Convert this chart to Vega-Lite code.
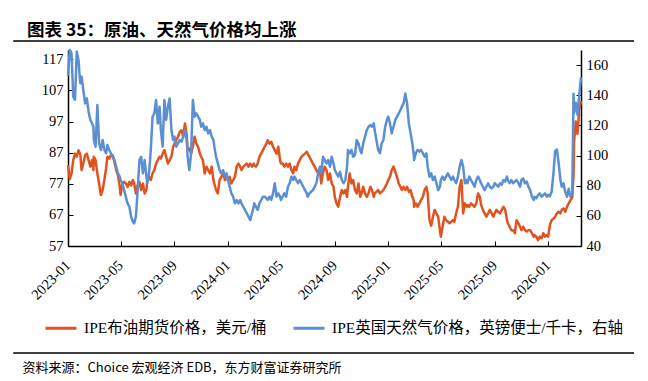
{
"$schema": "https://vega.github.io/schema/vega-lite/v6.json",
"width": 513, "height": 196,
"autosize": {"type": "none"},
"padding": {"left": 68, "top": 50, "right": 67, "bottom": 135},
"background": "white",
"config": {"view": {"stroke": null}},
"title": {"text": "图表 35：原油、天然气价格均上涨", "anchor": "start", "frame": "group", "dx": -41, "offset": 1, "font": "Noto Sans CJK SC", "fontSize": 17.5, "fontWeight": "bold", "color": "#000000"},
"data": {"values": [
{"date":"2023-01-01","oil":83,"gas":153},{"date":"2023-01-05","oil":78.5,"gas":170},{"date":"2023-01-09","oil":80.3,"gas":168},{"date":"2023-01-13","oil":84.6,"gas":139},{"date":"2023-01-17","oil":86.7,"gas":137},{"date":"2023-01-21","oil":85.7,"gas":169},{"date":"2023-01-25","oil":87.8,"gas":163},{"date":"2023-01-29","oil":86.5,"gas":148},
{"date":"2023-02-01","oil":81.4,"gas":152.3},{"date":"2023-02-05","oil":83.5,"gas":143.4},{"date":"2023-02-09","oil":86.2,"gas":134.6},{"date":"2023-02-13","oil":86.7,"gas":137.9},{"date":"2023-02-17","oil":84.6,"gas":129.1},{"date":"2023-02-21","oil":82.5,"gas":123.6},{"date":"2023-02-25","oil":84.6,"gas":121.3},{"date":"2023-02-28","oil":81.4,"gas":119.1},
{"date":"2023-03-01","oil":85.7,"gas":110.3},{"date":"2023-03-05","oil":84.6,"gas":105.9},{"date":"2023-03-09","oil":80.3,"gas":133.5},{"date":"2023-03-13","oil":77.1,"gas":108.1},{"date":"2023-03-17","oil":73.4,"gas":103.7},{"date":"2023-03-21","oil":75,"gas":110.3},{"date":"2023-03-25","oil":78.2,"gas":103.7},{"date":"2023-03-29","oil":82,"gas":101.5},
{"date":"2023-04-01","oil":85.7,"gas":107},{"date":"2023-04-05","oil":85.1,"gas":103.7},{"date":"2023-04-09","oil":86.2,"gas":101.5},{"date":"2023-04-13","oil":86.2,"gas":99.2},{"date":"2023-04-17","oil":84,"gas":97},{"date":"2023-04-21","oil":81.4,"gas":92.6},{"date":"2023-04-25","oil":79.8,"gas":88.2},{"date":"2023-04-29","oil":76,"gas":86},
{"date":"2023-05-01","oil":73.4,"gas":83.8},{"date":"2023-05-05","oil":77.1,"gas":81.6},{"date":"2023-05-09","oil":77.6,"gas":77.1},{"date":"2023-05-13","oil":77.1,"gas":72.7},{"date":"2023-05-17","oil":76,"gas":68.3},{"date":"2023-05-21","oil":77.6,"gas":66.1},{"date":"2023-05-25","oil":76.5,"gas":59.5},{"date":"2023-05-29","oil":78.2,"gas":56.1},
{"date":"2023-06-01","oil":77.1,"gas":55},{"date":"2023-06-05","oil":73.9,"gas":59.5},{"date":"2023-06-09","oil":76.5,"gas":77},{"date":"2023-06-13","oil":77.6,"gas":97},{"date":"2023-06-17","oil":75,"gas":99.2},{"date":"2023-06-21","oil":77.1,"gas":88.2},{"date":"2023-06-25","oil":73.9,"gas":97},{"date":"2023-06-29","oil":75,"gas":86},
{"date":"2023-07-01","oil":78.2,"gas":81.6},{"date":"2023-07-05","oil":79.2,"gas":88.2},{"date":"2023-07-09","oil":78.2,"gas":103.7},{"date":"2023-07-13","oil":80.3,"gas":125.8},{"date":"2023-07-17","oil":81.4,"gas":128},{"date":"2023-07-21","oil":83.5,"gas":136.8},{"date":"2023-07-25","oil":84.6,"gas":121.3},{"date":"2023-07-29","oil":85.7,"gas":132.4},
{"date":"2023-08-01","oil":85.1,"gas":116.9},{"date":"2023-08-05","oil":86.7,"gas":105.9},{"date":"2023-08-09","oil":87.8,"gas":136.8},{"date":"2023-08-13","oil":85.7,"gas":123.6},{"date":"2023-08-17","oil":83.5,"gas":132.4},{"date":"2023-08-21","oil":84.6,"gas":137.9},{"date":"2023-08-25","oil":85.7,"gas":116.9},{"date":"2023-08-29","oil":88.9,"gas":110.3},
{"date":"2023-09-01","oil":89.9,"gas":112.5},{"date":"2023-09-05","oil":91,"gas":105.9},{"date":"2023-09-09","oil":92.1,"gas":108.1},{"date":"2023-09-13","oil":93.7,"gas":110.3},{"date":"2023-09-17","oil":94.2,"gas":109.2},{"date":"2023-09-21","oil":92.1,"gas":112.5},{"date":"2023-09-25","oil":96.4,"gas":116.9},{"date":"2023-09-29","oil":92.6,"gas":110.3},
{"date":"2023-10-01","oil":87.8,"gas":99.2},{"date":"2023-10-05","oil":88.3,"gas":90.4},{"date":"2023-10-09","oil":86.7,"gas":101.5},{"date":"2023-10-13","oil":88.9,"gas":136.8},{"date":"2023-10-17","oil":92.1,"gas":125.8},{"date":"2023-10-21","oil":89.9,"gas":128},{"date":"2023-10-25","oil":88.9,"gas":125.8},{"date":"2023-10-29","oil":86.7,"gas":123.6},
{"date":"2023-11-01","oil":85.7,"gas":119.1},{"date":"2023-11-05","oil":84.6,"gas":121.3},{"date":"2023-11-09","oil":80.3,"gas":116.9},{"date":"2023-11-13","oil":82.5,"gas":119.1},{"date":"2023-11-17","oil":81.4,"gas":114.7},{"date":"2023-11-21","oil":80.3,"gas":116.9},{"date":"2023-11-25","oil":82.5,"gas":112.5},{"date":"2023-11-29","oil":78.2,"gas":110.3},
{"date":"2023-12-01","oil":77.1,"gas":105.9},{"date":"2023-12-05","oil":75,"gas":99.2},{"date":"2023-12-09","oil":73.9,"gas":94.8},{"date":"2023-12-13","oil":78.2,"gas":90.4},{"date":"2023-12-17","oil":79.2,"gas":88.2},{"date":"2023-12-21","oil":80.3,"gas":90.4},{"date":"2023-12-25","oil":78.2,"gas":86},{"date":"2023-12-29","oil":79.2,"gas":88.2},
{"date":"2024-01-01","oil":78.2,"gas":83.8},{"date":"2024-01-05","oil":79.2,"gas":79.3},{"date":"2024-01-09","oil":77.1,"gas":74.9},{"date":"2024-01-13","oil":78.2,"gas":72.7},{"date":"2024-01-17","oil":79.2,"gas":68.3},{"date":"2024-01-21","oil":82.5,"gas":70.5},{"date":"2024-01-25","oil":83.5,"gas":68.3},{"date":"2024-01-29","oil":82.5,"gas":70.5},
{"date":"2024-02-01","oil":81.4,"gas":68.3},{"date":"2024-02-05","oil":82.5,"gas":66.1},{"date":"2024-02-09","oil":83,"gas":63.9},{"date":"2024-02-13","oil":83.5,"gas":61.7},{"date":"2024-02-17","oil":82.5,"gas":59.5},{"date":"2024-02-21","oil":83.5,"gas":57.2},{"date":"2024-02-25","oil":82.5,"gas":61.7},{"date":"2024-02-29","oil":83.5,"gas":66.1},
{"date":"2024-03-01","oil":83,"gas":68.3},{"date":"2024-03-05","oil":82.5,"gas":66.1},{"date":"2024-03-09","oil":83.5,"gas":63.9},{"date":"2024-03-13","oil":85.7,"gas":68.3},{"date":"2024-03-17","oil":86.7,"gas":70.5},{"date":"2024-03-21","oil":87.8,"gas":72.7},{"date":"2024-03-25","oil":88.9,"gas":72.7},{"date":"2024-03-29","oil":89.9,"gas":71.6},
{"date":"2024-04-01","oil":91,"gas":70.5},{"date":"2024-04-05","oil":89.9,"gas":72.7},{"date":"2024-04-09","oil":90.5,"gas":70.5},{"date":"2024-04-13","oil":88.9,"gas":74.9},{"date":"2024-04-17","oil":87.8,"gas":81.6},{"date":"2024-04-21","oil":86.7,"gas":72.7},{"date":"2024-04-25","oil":88.9,"gas":74.9},{"date":"2024-04-29","oil":84.6,"gas":72.7},
{"date":"2024-05-01","oil":83.5,"gas":70.5},{"date":"2024-05-05","oil":83.5,"gas":72.7},{"date":"2024-05-09","oil":82.5,"gas":74.9},{"date":"2024-05-13","oil":83.5,"gas":72.7},{"date":"2024-05-17","oil":82.5,"gas":79.3},{"date":"2024-05-21","oil":83.5,"gas":81.6},{"date":"2024-05-25","oil":81.4,"gas":86},{"date":"2024-05-29","oil":80.3,"gas":83.8},
{"date":"2024-06-01","oil":82.5,"gas":86},{"date":"2024-06-05","oil":81.4,"gas":83.8},{"date":"2024-06-09","oil":83.5,"gas":81.6},{"date":"2024-06-13","oil":84.6,"gas":83.8},{"date":"2024-06-17","oil":85.7,"gas":81.6},{"date":"2024-06-21","oil":86.2,"gas":79.3},{"date":"2024-06-25","oil":86.7,"gas":77.1},{"date":"2024-06-29","oil":87.3,"gas":74.9},
{"date":"2024-07-01","oil":86.7,"gas":72.7},{"date":"2024-07-05","oil":85.7,"gas":74.9},{"date":"2024-07-09","oil":84.6,"gas":76},{"date":"2024-07-13","oil":83.5,"gas":77.1},{"date":"2024-07-17","oil":82.5,"gas":79.3},{"date":"2024-07-21","oil":81.4,"gas":81.6},{"date":"2024-07-25","oil":80.3,"gas":88.2},{"date":"2024-07-29","oil":81.4,"gas":92.6},
{"date":"2024-08-01","oil":77.1,"gas":88.2},{"date":"2024-08-05","oil":80.3,"gas":99.2},{"date":"2024-08-09","oil":82.5,"gas":97},{"date":"2024-08-13","oil":81.4,"gas":94.8},{"date":"2024-08-17","oil":78.2,"gas":97},{"date":"2024-08-21","oil":80.3,"gas":92.6},{"date":"2024-08-25","oil":77.1,"gas":99.2},{"date":"2024-08-29","oil":76,"gas":94.8},
{"date":"2024-09-01","oil":72.8,"gas":90.4},{"date":"2024-09-05","oil":70.7,"gas":88.2},{"date":"2024-09-09","oil":69.6,"gas":86},{"date":"2024-09-13","oil":72.8,"gas":89.3},{"date":"2024-09-17","oil":75,"gas":83.8},{"date":"2024-09-21","oil":73.9,"gas":81.6},{"date":"2024-09-25","oil":75,"gas":83.8},{"date":"2024-09-29","oil":72.8,"gas":92.6},
{"date":"2024-10-01","oil":76,"gas":103.7},{"date":"2024-10-05","oil":80.3,"gas":101.5},{"date":"2024-10-09","oil":77.1,"gas":103.7},{"date":"2024-10-13","oil":78.2,"gas":99.2},{"date":"2024-10-17","oil":75,"gas":100.3},{"date":"2024-10-21","oil":73.9,"gas":110.3},{"date":"2024-10-25","oil":77.1,"gas":108.1},{"date":"2024-10-29","oil":72.8,"gas":103.7},
{"date":"2024-11-01","oil":73.9,"gas":101.5},{"date":"2024-11-05","oil":76,"gas":108.1},{"date":"2024-11-09","oil":73.9,"gas":112.5},{"date":"2024-11-13","oil":72.8,"gas":116.9},{"date":"2024-11-17","oil":73.9,"gas":119.1},{"date":"2024-11-21","oil":76,"gas":120.2},{"date":"2024-11-25","oil":75,"gas":119.1},{"date":"2024-11-29","oil":72.8,"gas":121.3},
{"date":"2024-12-01","oil":73.9,"gas":116.9},{"date":"2024-12-05","oil":74.4,"gas":110.3},{"date":"2024-12-09","oil":75,"gas":103.7},{"date":"2024-12-13","oil":73.9,"gas":101.5},{"date":"2024-12-17","oil":74.4,"gas":108.1},{"date":"2024-12-21","oil":75,"gas":110.3},{"date":"2024-12-25","oil":76,"gas":119.1},{"date":"2024-12-29","oil":77.1,"gas":123.6},
{"date":"2025-01-01","oil":78.2,"gas":125.8},{"date":"2025-01-05","oil":79.2,"gas":121.3},{"date":"2025-01-09","oil":81.4,"gas":114.7},{"date":"2025-01-13","oil":82.5,"gas":119.1},{"date":"2025-01-17","oil":80.9,"gas":123.6},{"date":"2025-01-21","oil":79.2,"gas":125.8},{"date":"2025-01-25","oil":77.1,"gas":128},{"date":"2025-01-29","oil":76,"gas":130.2},
{"date":"2025-02-01","oil":75,"gas":132.4},{"date":"2025-02-05","oil":76,"gas":134.6},{"date":"2025-02-09","oil":75,"gas":141.2},{"date":"2025-02-13","oil":76,"gas":134.6},{"date":"2025-02-17","oil":74.4,"gas":121.3},{"date":"2025-02-21","oil":75,"gas":114.7},{"date":"2025-02-25","oil":72.8,"gas":108.1},{"date":"2025-02-28","oil":71.8,"gas":101.5},
{"date":"2025-03-01","oil":69.6,"gas":97},{"date":"2025-03-05","oil":70.7,"gas":101.5},{"date":"2025-03-09","oil":69.6,"gas":103.7},{"date":"2025-03-13","oil":70.7,"gas":102.6},{"date":"2025-03-17","oil":71.8,"gas":103.7},{"date":"2025-03-21","oil":72.8,"gas":101.5},{"date":"2025-03-25","oil":75,"gas":99.2},{"date":"2025-03-29","oil":76,"gas":101.5},
{"date":"2025-04-01","oil":74,"gas":92.6},{"date":"2025-04-05","oil":65.5,"gas":86},{"date":"2025-04-09","oil":63.5,"gas":88.2},{"date":"2025-04-13","oil":66.4,"gas":83.8},{"date":"2025-04-17","oil":68.6,"gas":86},{"date":"2025-04-21","oil":67.5,"gas":81.6},{"date":"2025-04-25","oil":66.4,"gas":77.1},{"date":"2025-04-29","oil":62,"gas":79.3},
{"date":"2025-05-01","oil":60,"gas":83.8},{"date":"2025-05-05","oil":63.2,"gas":86},{"date":"2025-05-09","oil":66.4,"gas":83.8},{"date":"2025-05-13","oil":65.3,"gas":86},{"date":"2025-05-17","oil":64.8,"gas":88.2},{"date":"2025-05-21","oil":64.3,"gas":86},{"date":"2025-05-25","oil":64.8,"gas":83.8},{"date":"2025-05-29","oil":65.3,"gas":86},
{"date":"2025-06-01","oil":64.8,"gas":83.8},{"date":"2025-06-05","oil":67.5,"gas":81.6},{"date":"2025-06-09","oil":69.6,"gas":86},{"date":"2025-06-13","oil":76,"gas":92.6},{"date":"2025-06-17","oil":78.2,"gas":97},{"date":"2025-06-21","oil":67.5,"gas":92.6},{"date":"2025-06-25","oil":70.7,"gas":81.6},{"date":"2025-06-29","oil":69.6,"gas":83.8},
{"date":"2025-07-01","oil":70.2,"gas":81.6},{"date":"2025-07-05","oil":69.6,"gas":86},{"date":"2025-07-09","oil":70.7,"gas":83.8},{"date":"2025-07-13","oil":70.2,"gas":81.6},{"date":"2025-07-17","oil":69.6,"gas":79.3},{"date":"2025-07-21","oil":70.7,"gas":83.8},{"date":"2025-07-25","oil":73.9,"gas":86},{"date":"2025-07-29","oil":72.8,"gas":83.8},
{"date":"2025-08-01","oil":70.2,"gas":81.6},{"date":"2025-08-05","oil":68.6,"gas":79.3},{"date":"2025-08-09","oil":67.5,"gas":77.1},{"date":"2025-08-13","oil":66.4,"gas":79.3},{"date":"2025-08-17","oil":67.5,"gas":81.6},{"date":"2025-08-21","oil":68.6,"gas":79.3},{"date":"2025-08-25","oil":67.5,"gas":78.2},{"date":"2025-08-29","oil":66.4,"gas":79.3},
{"date":"2025-09-01","oil":67.5,"gas":81.6},{"date":"2025-09-05","oil":68.6,"gas":80.5},{"date":"2025-09-09","oil":68,"gas":79.3},{"date":"2025-09-13","oil":67.5,"gas":81.6},{"date":"2025-09-17","oil":68.6,"gas":80.5},{"date":"2025-09-21","oil":69.6,"gas":83.8},{"date":"2025-09-25","oil":68.6,"gas":82.7},{"date":"2025-09-29","oil":65.3,"gas":86},
{"date":"2025-10-01","oil":64.3,"gas":83.8},{"date":"2025-10-05","oil":63.2,"gas":81.6},{"date":"2025-10-09","oil":62.1,"gas":83.8},{"date":"2025-10-13","oil":62.1,"gas":81.6},{"date":"2025-10-17","oil":61.1,"gas":82.7},{"date":"2025-10-21","oil":65.3,"gas":83.8},{"date":"2025-10-25","oil":64.3,"gas":81.6},{"date":"2025-10-29","oil":63.2,"gas":79.3},
{"date":"2025-11-01","oil":62.1,"gas":83.8},{"date":"2025-11-05","oil":63.2,"gas":84.9},{"date":"2025-11-09","oil":62.1,"gas":81.6},{"date":"2025-11-13","oil":61.6,"gas":82.7},{"date":"2025-11-17","oil":62.1,"gas":79.3},{"date":"2025-11-21","oil":62.1,"gas":77.1},{"date":"2025-11-25","oil":61.1,"gas":72.7},{"date":"2025-11-29","oil":60,"gas":70.5},
{"date":"2025-12-01","oil":60.5,"gas":72.7},{"date":"2025-12-05","oil":60,"gas":71.6},{"date":"2025-12-09","oil":58.9,"gas":73.8},{"date":"2025-12-13","oil":60,"gas":74.9},{"date":"2025-12-17","oil":59.5,"gas":72.7},{"date":"2025-12-21","oil":61.1,"gas":73.8},{"date":"2025-12-25","oil":60,"gas":74.9},{"date":"2025-12-29","oil":60.5,"gas":72.7},
{"date":"2026-01-01","oil":60,"gas":74},{"date":"2026-01-05","oil":63.7,"gas":73},{"date":"2026-01-09","oil":65.3,"gas":76},{"date":"2026-01-13","oil":65.8,"gas":88},{"date":"2026-01-17","oil":66.4,"gas":103},{"date":"2026-01-21","oil":67.5,"gas":104},{"date":"2026-01-25","oil":68,"gas":95},{"date":"2026-01-29","oil":67.5,"gas":84},
{"date":"2026-02-01","oil":68.6,"gas":79.3},{"date":"2026-02-05","oil":69.1,"gas":81.6},{"date":"2026-02-09","oil":68,"gas":76},{"date":"2026-02-13","oil":69.6,"gas":72.7},{"date":"2026-02-17","oil":70.7,"gas":78},{"date":"2026-02-21","oil":71.8,"gas":72.7},{"date":"2026-02-25","oil":72.5,"gas":75},{"date":"2026-02-28","oil":80,"gas":141},
{"date":"2026-03-01","oil":90,"gas":128},{"date":"2026-03-05","oil":97,"gas":135},{"date":"2026-03-09","oil":93,"gas":127},{"date":"2026-03-13","oil":101,"gas":140},{"date":"2026-03-17","oil":103.5,"gas":152}
]},
"layer": [
  {"mark": {"type": "line", "strokeWidth": 2.5, "strokeJoin": "round"},
   "encoding": {
     "x": {"field": "date", "type": "temporal",
           "scale": {"type": "utc", "domain": [{"year": 2023, "month": 1, "date": 1, "utc": true}, {"year": 2026, "month": 3, "date": 17, "utc": true}]},
           "axis": {"format": "%Y-%m", "tickCount": {"interval": "month", "step": 4}, "labelAngle": -45, "labelAlign": "right", "labelBaseline": "middle", "labelPadding": 22, "labelFlush": false, "labelOverlap": false, "tickSize": -5, "tickColor": "#000000", "tickWidth": 1, "domainColor": "#000000", "domainWidth": 1.5, "grid": false, "labelFont": "Liberation Serif", "labelFontSize": 14.5, "labelColor": "#000000",
                    "title": "资料来源：Choice 宏观经济 EDB，东方财富证券研究所", "titleX": -46, "titleY": 121, "titleAlign": "left", "titleAnchor": "start", "titleBaseline": "middle", "titleFont": "Noto Sans CJK SC", "titleFontSize": 13, "titleFontWeight": "normal", "titleColor": "#000000"}},
     "y": {"field": "oil", "type": "quantitative",
           "scale": {"domain": [57, 120], "nice": false, "zero": false},
           "axis": {"orient": "left", "values": [57, 67, 77, 87, 97, 107, 117], "title": null, "grid": false, "tickSize": -5, "tickColor": "#000000", "domainColor": "#000000", "domainWidth": 1.5, "labelPadding": 10, "labelFont": "Liberation Serif", "labelFontSize": 14.5, "labelColor": "#000000"}},
     "color": {"datum": "IPE布油期货价格，美元/桶", "type": "nominal",
               "scale": {"domain": ["IPE布油期货价格，美元/桶", "IPE英国天然气价格，英镑便士/千卡，右轴"], "range": ["#E0531F", "#5A8FD2"]},
               "legend": {"title": null, "orient": "none", "legendX": -24, "legendY": 261, "direction": "horizontal", "symbolType": "stroke", "symbolSize": 961, "symbolStrokeWidth": 3, "labelFont": "Liberation Serif, Noto Sans CJK SC", "labelFontSize": 15.5, "labelColor": "#000000", "labelLimit": 400, "labelOffset": 6, "columnPadding": 20}}
   }},
  {"mark": {"type": "line", "strokeWidth": 2.5, "strokeJoin": "round"},
   "encoding": {
     "x": {"field": "date", "type": "temporal"},
     "y": {"field": "gas", "type": "quantitative",
           "scale": {"domain": [40, 170], "nice": false, "zero": false},
           "axis": {"orient": "right", "values": [40, 60, 80, 100, 120, 140, 160], "title": null, "grid": false, "tickSize": -5, "tickColor": "#000000", "domainColor": "#000000", "domainWidth": 1.5, "labelPadding": 10, "labelFont": "Liberation Serif", "labelFontSize": 14.5, "labelColor": "#000000"}},
     "color": {"datum": "IPE英国天然气价格，英镑便士/千卡，右轴", "type": "nominal"}
   }},
  {"data": {"values": [{}]},
   "mark": {"type": "rule", "color": "#000000", "strokeWidth": 1.3, "clip": false},
   "encoding": {
     "x": {"datum": {"year": 2022, "month": 8, "date": 29, "utc": true}, "type": "temporal"},
     "x2": {"datum": {"year": 2026, "month": 7, "date": 16, "utc": true}},
     "y": {"datum": 122.9, "type": "quantitative", "scale": {"domain": [57, 120], "nice": false, "zero": false}, "axis": null}
   }},
  {"data": {"values": [{}]},
   "mark": {"type": "rule", "color": "#000000", "strokeWidth": 1.3, "clip": false},
   "encoding": {
     "x": {"datum": {"year": 2022, "month": 8, "date": 29, "utc": true}, "type": "temporal"},
     "x2": {"datum": {"year": 2026, "month": 7, "date": 16, "utc": true}},
     "y": {"datum": 22.6, "type": "quantitative", "scale": {"domain": [57, 120], "nice": false, "zero": false}, "axis": null}
   }}
],
"resolve": {"scale": {"y": "independent"}}
}
